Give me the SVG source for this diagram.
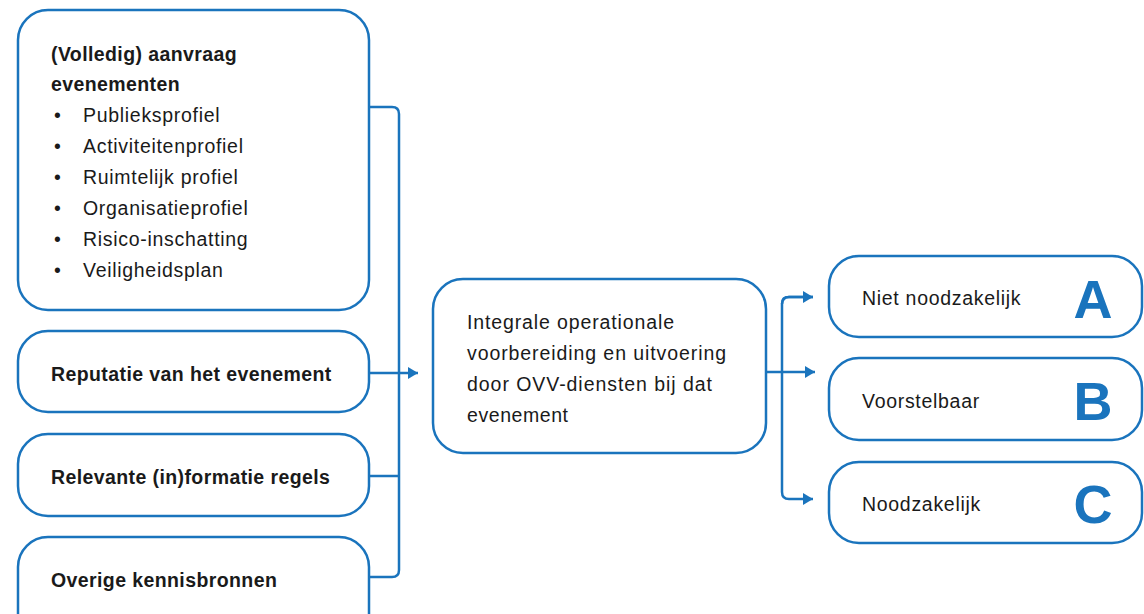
<svg xmlns="http://www.w3.org/2000/svg" width="1144" height="614" viewBox="0 0 1144 614">
<style>
.box{fill:#fff;stroke:#1a74bd;stroke-width:2.5}
.ln{fill:none;stroke:#1a74bd;stroke-width:2.5}
.t{font-family:"Liberation Sans",Arial,sans-serif;font-size:19.5px;letter-spacing:0.7px;fill:#1a1a1a}
.b{font-weight:bold;letter-spacing:0.4px}
.c{letter-spacing:0}
.L{font-family:"Liberation Sans",Arial,sans-serif;font-size:54px;font-weight:bold;fill:#1a74bd;text-anchor:middle}
</style>
<defs>
<marker id="ah" viewBox="0 0 10 12" refX="10" refY="6" markerWidth="10" markerHeight="12" markerUnits="userSpaceOnUse" orient="auto">
<path d="M0,0 L10,6 L0,12 z" fill="#1a74bd"/>
</marker>
</defs>
<rect width="1144" height="614" fill="#fff"/>
<g id="connectors">
<path class="ln" d="M369,107 H392 Q399,107 399,114 V570 Q399,577 392,577 H369"/>
<path class="ln" d="M369,476 H399"/>
<path class="ln" d="M369,373 H418" marker-end="url(#ah)"/>
<path class="ln" d="M766,372 H815" marker-end="url(#ah)"/>
<path class="ln" d="M813,297 H789 Q782,297 782,304 V492 Q782,499 789,499 H813" marker-end="url(#ah)"/>
<path class="ln" d="M782,304 Q782,297 789,297 H813" marker-end="url(#ah)"/>
</g>
<g id="node-aanvraag">
<rect class="box" x="18" y="10" width="351" height="300" rx="30"/>
<text class="t b" x="51" y="61">(Volledig) aanvraag</text>
<text class="t b" x="51" y="91">evenementen</text>
<g class="t">
<text x="54" y="122">•</text><text x="83" y="122">Publieksprofiel</text>
<text x="54" y="153">•</text><text x="83" y="153">Activiteitenprofiel</text>
<text x="54" y="184">•</text><text x="83" y="184">Ruimtelijk profiel</text>
<text x="54" y="215">•</text><text x="83" y="215">Organisatieprofiel</text>
<text x="54" y="246">•</text><text x="83" y="246">Risico-inschatting</text>
<text x="54" y="277">•</text><text x="83" y="277">Veiligheidsplan</text>
</g>
</g>
<g id="node-reputatie">
<rect class="box" x="18" y="331" width="351" height="81" rx="30"/>
<text class="t b" x="51" y="381">Reputatie van het evenement</text>
</g>
<g id="node-regels">
<rect class="box" x="18" y="434" width="351" height="82" rx="30"/>
<text class="t b" x="51" y="484">Relevante (in)formatie regels</text>
</g>
<g id="node-overige">
<rect class="box" x="18" y="537" width="351" height="110" rx="30"/>
<text class="t b" x="51" y="587">Overige kennisbronnen</text>
</g>
<g id="node-integrale">
<rect class="box" x="433" y="279" width="333" height="174" rx="30"/>
<text class="t c" x="467" y="329" textLength="207" lengthAdjust="spacing">Integrale operationale</text>
<text class="t c" x="467" y="360" textLength="259" lengthAdjust="spacing">voorbereiding en uitvoering</text>
<text class="t c" x="467" y="391" textLength="245" lengthAdjust="spacing">door OVV-diensten bij dat</text>
<text class="t c" x="467" y="422" textLength="101" lengthAdjust="spacing">evenement</text>
</g>
<g id="node-a">
<rect class="box" x="829" y="256" width="313" height="81" rx="30"/>
<text class="t" x="862" y="305">Niet noodzakelijk</text>
<text class="L" x="1093" y="318">A</text>
</g>
<g id="node-b">
<rect class="box" x="829" y="358" width="313" height="82" rx="30"/>
<text class="t" x="862" y="408">Voorstelbaar</text>
<text class="L" x="1093" y="420">B</text>
</g>
<g id="node-c">
<rect class="box" x="829" y="462" width="313" height="81" rx="30"/>
<text class="t" x="862" y="511">Noodzakelijk</text>
<text class="L" x="1093" y="523">C</text>
</g>
</svg>
